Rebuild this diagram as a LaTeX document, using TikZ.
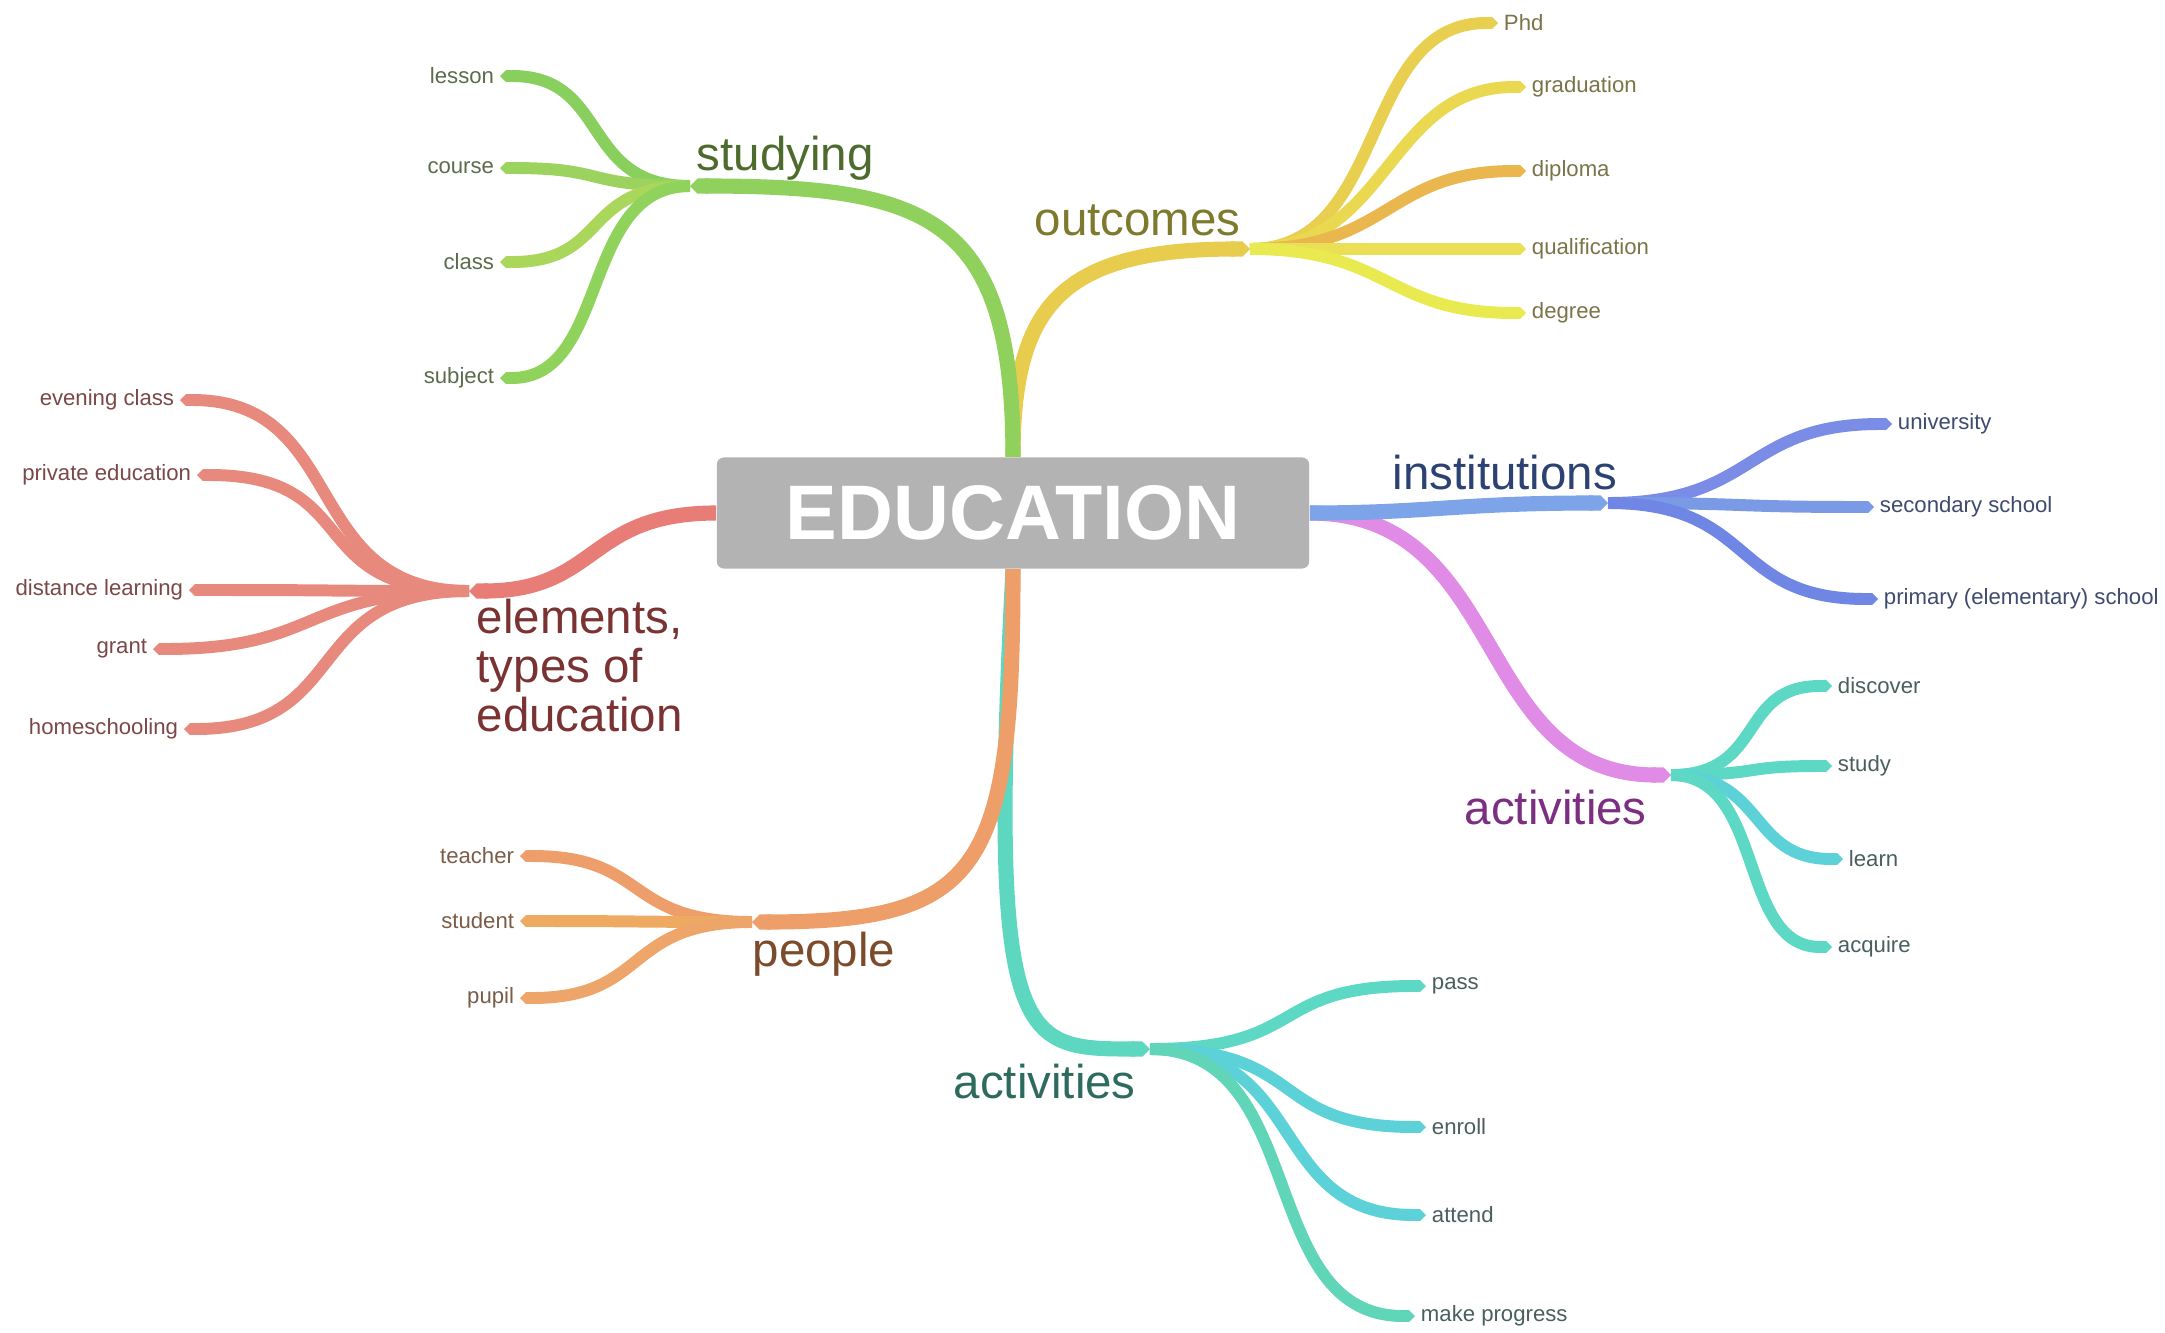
\documentclass[tikz,border=0pt]{standalone}
\usepackage{fontspec}
\setmainfont{Liberation Sans}
\usepackage{xcolor}
\usetikzlibrary{arrows.meta}

\definecolor{hubgray}{HTML}{B3B3B3}
\definecolor{grMain}{HTML}{8FD15C}
\definecolor{grA}{HTML}{88CF5E}
\definecolor{grB}{HTML}{9CD35E}
\definecolor{grC}{HTML}{AAD65C}
\definecolor{grD}{HTML}{90D35C}
\definecolor{grTopic}{HTML}{4E6B2E}
\definecolor{grText}{HTML}{5C6B4C}
\definecolor{yeMain}{HTML}{E8CC4E}
\definecolor{yeA}{HTML}{E8CF50}
\definecolor{yeB}{HTML}{E9D850}
\definecolor{yeC}{HTML}{EAB64E}
\definecolor{yeD}{HTML}{EBDF55}
\definecolor{yeE}{HTML}{E8EA50}
\definecolor{yeTopic}{HTML}{7D7A2E}
\definecolor{yeText}{HTML}{7A7448}
\definecolor{reMain}{HTML}{E87D78}
\definecolor{reLeaf}{HTML}{E8897D}
\definecolor{reTopic}{HTML}{7A3232}
\definecolor{reText}{HTML}{7A4848}
\definecolor{orMain}{HTML}{EE9E68}
\definecolor{orA}{HTML}{EE9E6A}
\definecolor{orB}{HTML}{EEAA60}
\definecolor{orC}{HTML}{EEA56A}
\definecolor{orTopic}{HTML}{7C4B2B}
\definecolor{orText}{HTML}{7A5C48}
\definecolor{tlMain}{HTML}{5DD7BF}
\definecolor{tlA}{HTML}{5DD8C5}
\definecolor{tlB}{HTML}{5CD2D8}
\definecolor{tlC}{HTML}{60D5B8}
\definecolor{tlTopic}{HTML}{2E6B5E}
\definecolor{tlText}{HTML}{4A5E5E}
\definecolor{blMain}{HTML}{7DA3E8}
\definecolor{blA}{HTML}{7A8CE6}
\definecolor{blB}{HTML}{7A9AE6}
\definecolor{blC}{HTML}{6F86E4}
\definecolor{blTopic}{HTML}{2C4272}
\definecolor{blText}{HTML}{3E4A6E}
\definecolor{pkMain}{HTML}{E08CE6}
\definecolor{pkTopic}{HTML}{7C2F82}

\tikzset{
  leaf/.style={font=\fontsize{6.3}{7.5}\selectfont, inner sep=1.5pt},
  topic/.style={font=\fontsize{13.5}{14}\selectfont, inner sep=0pt},
  bough/.style={line width=4.3pt, -{Triangle Cap[]}},
  twig/.style={line width=3.4pt, -{Triangle Cap[]}},
}

\begin{document}
\begin{tikzpicture}[x=0.01cm, y=-0.01cm]
\useasboundingbox (0,0) rectangle (2165,1333);

\node[fill=hubgray, rounded corners=2pt, minimum width=5.92cm, minimum height=1.11cm,
  text=white, font=\fontsize{22}{26}\selectfont\bfseries] (edu) at (1013,513) {EDUCATION};

% hubs
\coordinate (studyhub) at (690,186);
\coordinate (outhub) at (1250,249);
\coordinate (elemhub) at (469,591);
\coordinate (peoplehub) at (752,922);
\coordinate (acthub) at (1150,1049);
\coordinate (insthub) at (1608,503);
\coordinate (dohub) at (1671,775);

% topics
\node[topic, text=grTopic, anchor=base west] (studying) at (696,170) {studying};
\node[topic, text=yeTopic, anchor=base west] (outcomes) at (1034,235) {outcomes};
\node[topic, text=blTopic, anchor=base west] (institutions) at (1392,489) {institutions};
\node[topic, text=pkTopic, anchor=base west] (actright) at (1464,824) {activities};
\node[topic, text=tlTopic, anchor=base west] (actlow) at (953,1098) {activities};
\node[topic, text=orTopic, anchor=base west] (people) at (752,966) {people};
\node[topic, text=reTopic, anchor=north west, align=left] (elements) at (476,598) {elements,\\types of\\education};

% leaves
\foreach \nm/\yy/\col in {lesson/76/grA, course/168/grB, class/262/grC, subject/378/grD} {
  \node[leaf, anchor=east, text=grText] (\nm) at (500,\yy) {\nm};
  \draw[twig, \col] (studyhub) .. controls +(-110,0) and +(110,0) .. (\nm.east);
}
\foreach \nm/\lbl/\xx/\yy/\col in {phd/Phd/1498/23/yeA, graduation/graduation/1526/87/yeB,
    diploma/diploma/1526/171/yeC, qualification/qualification/1526/249/yeD, degree/degree/1526/313/yeE} {
  \node[leaf, anchor=west, text=yeText] (\nm) at (\xx,\yy) {\lbl};
  \draw[twig, \col] (outhub) .. controls +(140,0) and +(-140,0) .. (\nm.west);
}
\foreach \nm/\lbl/\xx/\yy in {evening/evening class/180/400, private/private education/197/475,
    distance/distance learning/189/590, grant/grant/153/649, homeschooling/homeschooling/184/729} {
  \node[leaf, anchor=east, text=reText] (\nm) at (\xx,\yy) {\lbl};
  \draw[twig, reLeaf] (elemhub) .. controls +(-170,0) and +(170,0) .. (\nm.east);
}
\foreach \nm/\yy/\col in {teacher/856/orA, student/921/orB, pupil/998/orC} {
  \node[leaf, anchor=east, text=orText] (\nm) at (520,\yy) {\nm};
  \draw[twig, \col] (peoplehub) .. controls +(-130,0) and +(130,0) .. (\nm.east);
}
\foreach \nm/\lbl/\xx/\yy/\col in {pass/pass/1426/986/tlA, enroll/enroll/1426/1127/tlB,
    attend/attend/1426/1215/tlB, progress/make progress/1415/1316/tlC} {
  \node[leaf, anchor=west, text=tlText] (\nm) at (\xx,\yy) {\lbl};
  \draw[twig, \col] (acthub) .. controls +(160,0) and +(-160,0) .. (\nm.west);
}
\foreach \nm/\lbl/\xx/\yy/\col in {university/university/1892/424/blA,
    secondary/secondary school/1874/507/blB, primary/primary (elementary) school/1878/599/blC} {
  \node[leaf, anchor=west, text=blText] (\nm) at (\xx,\yy) {\lbl};
  \draw[twig, \col] (insthub) .. controls +(150,0) and +(-150,0) .. (\nm.west);
}
\foreach \nm/\xx/\yy/\col in {discover/1832/686/tlA, study/1832/766/tlA, learn/1843/859/tlB, acquire/1832/947/tlA} {
  \node[leaf, anchor=west, text=tlText] (\nm) at (\xx,\yy) {\nm};
  \draw[twig, \col] (dohub) .. controls +(95,0) and +(-95,0) .. (\nm.west);
}

% branches
\draw[bough, tlMain] (edu.south) .. controls +(-25,480) and +(-130,0) .. (acthub);
\draw[bough, orMain] (edu.south) .. controls +(0,300) and +(230,0) .. (peoplehub);
\draw[bough, yeMain] (edu.north) .. controls +(0,-150) and +(-190,0) .. (outhub);
\draw[bough, grMain] (edu.north) .. controls +(0,-240) and +(240,0) .. (studyhub);
\draw[bough, reMain] (edu.west) .. controls +(-130,0) and +(130,0) .. (elemhub);
\draw[bough, pkMain] (edu.east) .. controls +(200,0) and +(-200,0) .. (dohub);
\draw[bough, blMain] (edu.east) .. controls +(120,0) and +(-150,0) .. (insthub);

\end{tikzpicture}
\end{document}
